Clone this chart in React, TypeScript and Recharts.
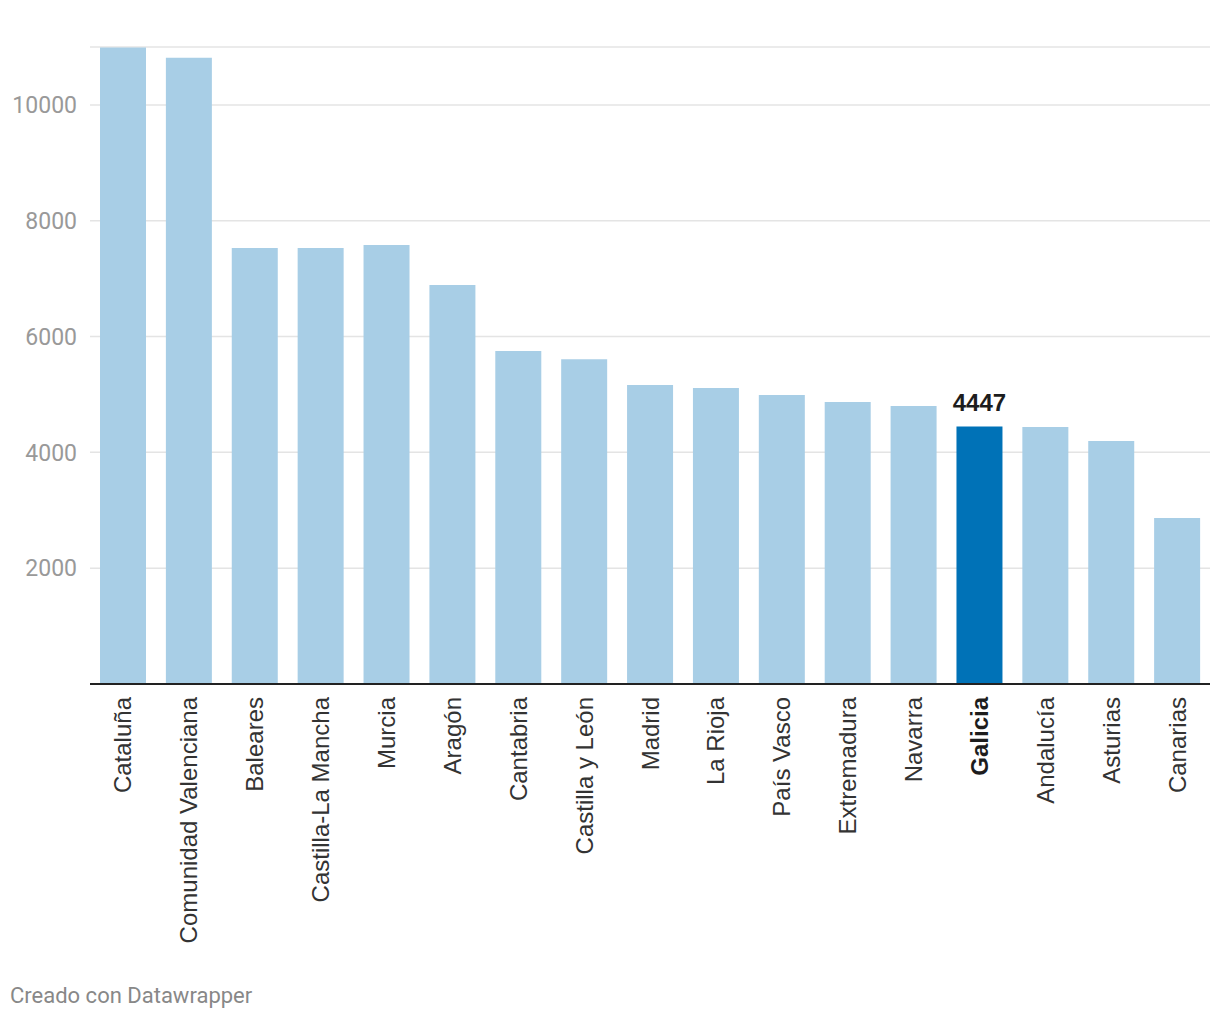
import { BarChart, Bar, XAxis, YAxis, CartesianGrid, Cell, LabelList } from 'recharts'

const regions = [
  'Cataluña', 'Comunidad Valenciana', 'Baleares', 'Castilla-La Mancha', 'Murcia', 'Aragón',
  'Cantabria', 'Castilla y León', 'Madrid', 'La Rioja', 'País Vasco', 'Extremadura',
  'Navarra', 'Galicia', 'Andalucía', 'Asturias', 'Canarias',
]
const values = [
  10990, 10815, 7530, 7530, 7580, 6890,
  5750, 5610, 5165, 5110, 4990, 4870,
  4800, 4447, 4440, 4195, 2865,
]
const yTicks = [0, 2000, 4000, 6000, 8000, 10000, 11000]
const highlight = 'Galicia'

const data = regions.map((name, i) => ({ name, value: values[i] }))

const FONT = 'Roboto, "Noto Sans", sans-serif'
const LABEL_FONT = '"Liberation Sans", Arial, sans-serif'

function RegionTick(props: any) {
  const { x, y, payload } = props
  const bold = payload.value === highlight
  return (
    <text
      x={x}
      y={y + 5}
      transform={`rotate(-90 ${x} ${y + 5})`}
      textAnchor="end"
      dominantBaseline="central"
      fontSize={24}
      fontFamily={LABEL_FONT}
      fontWeight={bold ? 700 : 400}
      fill={bold ? '#1d1d1d' : '#333333'}
    >
      {payload.value}
    </text>
  )
}

function HighlightLabel(props: any) {
  const { x, y, width, value, index } = props
  if (regions[index] !== highlight) return null
  return (
    <text
      x={x + width / 2}
      y={y - 15}
      textAnchor="middle"
      fontSize={24}
      fontWeight={700}
      fontFamily={LABEL_FONT}
      fill="#1d1d1d"
    >
      {value}
    </text>
  )
}

export default function App() {
  return (
    <div style={{ position: 'absolute', left: 0, top: 0, width: 1220, height: 1020, background: '#fff', fontFamily: FONT }}>
      <BarChart
        width={1220}
        height={1020}
        data={data}
        margin={{ top: 47, right: 10, bottom: 36, left: 0 }}
      >
        <CartesianGrid vertical={false} stroke="#e4e4e4" strokeWidth={1.5} />
        <YAxis
          width={90}
          domain={[0, 11000]}
          ticks={yTicks}
          interval={0}
          axisLine={false}
          tickLine={false}
          tickMargin={7}
          tickFormatter={(v: number) => (v === 0 || v === 11000 ? '' : String(v))}
          tick={{ fill: '#999999', fontSize: 23, fontFamily: FONT }}
        />
        <XAxis
          dataKey="name"
          interval={0}
          height={300}
          tickLine={false}
          axisLine={{ stroke: '#222222', strokeWidth: 2 }}
          tick={<RegionTick />}
        />
        <Bar dataKey="value" barSize={46} isAnimationActive={false}>
          {data.map((d) => (
            <Cell key={d.name} fill={d.name === highlight ? '#0072b7' : '#a8cee6'} />
          ))}
          <LabelList dataKey="value" content={<HighlightLabel />} />
        </Bar>
      </BarChart>
      <div style={{ position: 'absolute', left: 10, top: 983, fontSize: 22, color: '#888888', fontFamily: FONT }}>
        Creado con Datawrapper
      </div>
    </div>
  )
}
